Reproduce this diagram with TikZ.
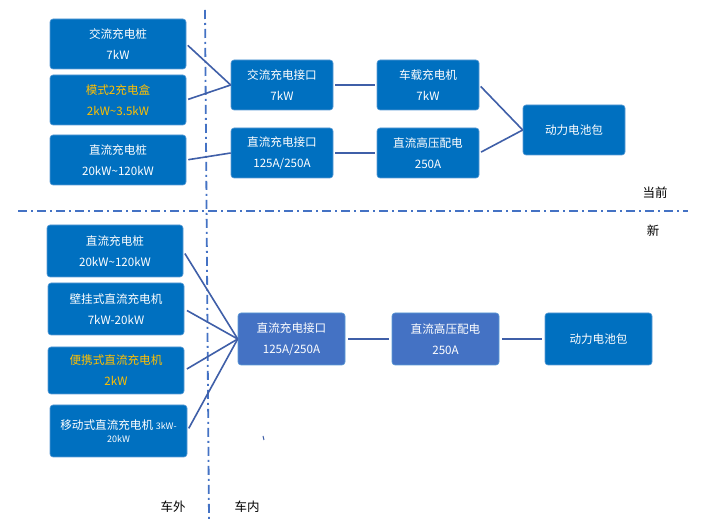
\documentclass[tikz,border=0pt]{standalone}
\usepackage{fontspec}
\setmainfont{Noto Sans CJK SC}
\definecolor{boxblue}{HTML}{0070C0}
\definecolor{boxlight}{HTML}{4472C4}
\definecolor{boxedge}{HTML}{5B9BD5}
\definecolor{linecol}{HTML}{3F5FA8}
\definecolor{dashcol}{HTML}{4472C4}
\definecolor{orangetxt}{HTML}{FFC000}
\begin{document}
\begin{tikzpicture}[x=1pt,y=-1pt,
  box/.style={draw=boxedge, line width=0.6pt, fill=boxblue, rounded corners=3pt,
    text=white, align=center, inner sep=0pt,
    font=\fontsize{11.6}{21}\selectfont},
  lbox/.style={box, fill=boxlight},
  conn/.style={draw=linecol, line width=1.6pt},
  sep/.style={draw=dashcol, line width=1.8pt, dash pattern=on 9pt off 4pt on 2pt off 4pt},
  lab/.style={font=\fontsize{12.5}{14}\selectfont, text=black, inner sep=0pt}]
\useasboundingbox (0,0) rectangle (713,529);
\fill[white] (0,0) rectangle (713,529);

% separators
\coordinate (vt) at (205,10);
\coordinate (vb) at (209,520);
\coordinate (hl) at (18,211);
\coordinate (hr) at (688,211);
\draw[sep] (vt) -- (vb);
\draw[sep] (hl) -- (hr);

% top part
\node[box, minimum width=136pt, minimum height=50pt] (A1) at (118,44) {交流充电桩\\7kW};
\node[box, minimum width=136pt, minimum height=50pt, text=orangetxt] (A2) at (118,100) {模式2充电盒\\2kW\textasciitilde3.5kW};
\node[box, minimum width=136pt, minimum height=50pt] (A3) at (118,160) {直流充电桩\\20kW\textasciitilde120kW};
\node[box, minimum width=102pt, minimum height=50pt] (B1) at (282,85) {交流充电接口\\7kW};
\node[box, minimum width=102pt, minimum height=50pt] (B2) at (282,153) {直流充电接口\\125A/250A};
\node[box, minimum width=102pt, minimum height=50pt] (C1) at (428,85) {车载充电机\\7kW};
\node[box, minimum width=102pt, minimum height=50pt] (C2) at (428,153) {直流高压配电\\250A};
\node[box, minimum width=102pt, minimum height=50pt] (D) at (574,130) {动力电池包};

\draw[conn, shorten <=2pt] (A1.east) -- (B1.west);
\draw[conn, shorten <=2pt] (A2.east) -- (B1.west);
\draw[conn, shorten <=2pt] (A3.east) -- (B2.west);
\draw[conn, shorten <=2pt, shorten >=2pt] (B1.east) -- (C1.west);
\draw[conn, shorten <=2pt, shorten >=2pt] (B2.east) -- (C2.west);
\draw[conn, shorten <=2pt] (C1.east) -- (D.west);
\draw[conn, shorten <=2pt] (C2.east) -- (D.west);

% bottom part
\node[box, minimum width=136pt, minimum height=52pt] (E1) at (115,251) {直流充电桩\\20kW\textasciitilde120kW};
\node[box, minimum width=136pt, minimum height=52pt] (E2) at (116,309) {壁挂式直流充电机\\7kW-20kW};
\node[box, minimum width=136pt, minimum height=47pt, text=orangetxt] (E3) at (116,370.5) {便携式直流充电机\\2kW};
\node[box, minimum width=137pt, minimum height=52pt, font=\fontsize{11.6}{13}\selectfont] (E4) at (118.5,431) {移动式直流充电机 {\fontsize{9}{13}\selectfont 3kW-}\\{\fontsize{9}{13}\selectfont 20kW}};
\node[lbox, minimum width=107pt, minimum height=52pt] (F1) at (291.5,339) {直流充电接口\\125A/250A};
\node[lbox, minimum width=107pt, minimum height=52pt] (F2) at (445.5,339) {直流高压配电\\250A};
\node[box, minimum width=107pt, minimum height=52pt] (F3) at (598.5,339) {动力电池包};

\draw[conn, shorten <=3pt] (E1.east) -- (F1.west);
\draw[conn, shorten <=3pt] (E2.east) -- (F1.west);
\draw[conn, shorten <=3pt] (E3.east) -- (F1.west);
\draw[conn, shorten <=3pt] (E4.east) -- (F1.west);
\draw[conn, shorten <=3pt, shorten >=3pt] (F1.east) -- (F2.west);
\draw[conn, shorten <=3pt, shorten >=3pt] (F2.east) -- (F3.west);

% stray mark
\coordinate (m1) at (263,436);
\coordinate (m2) at (264,440);
\draw[linecol, line width=1pt] (m1) -- (m2);

% labels
\node[lab] (cur) at (655,193) {当前};
\node[lab] (new) at (653,231) {新};
\node[lab] (out) at (173,507) {车外};
\node[lab] (in) at (247,507) {车内};
\end{tikzpicture}
\end{document}
